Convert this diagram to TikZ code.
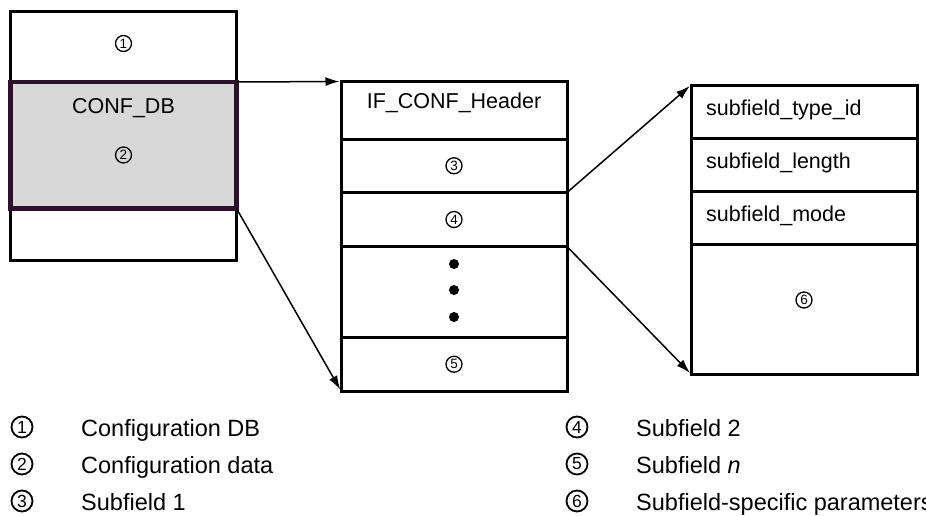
\documentclass[tikz,border=0pt]{standalone}
\usepackage{fontspec}
\setmainfont{Liberation Sans}
\usetikzlibrary{positioning, arrows.meta}
\definecolor{confgray}{RGB}{216,216,216}
\definecolor{confedge}{RGB}{45,16,42}

\begin{document}
\begin{tikzpicture}[x=1pt, y=-1pt, node distance=0pt,
    cell/.style={draw, line width=3pt, minimum width=226pt, inner sep=0pt, outer sep=0pt, anchor=north},
    lbl/.style={font=\fontsize{21.5}{24}\selectfont, inner sep=0pt},
    num/.style={circle, draw, line width=1.3pt, minimum size=16pt, inner sep=0pt, font=\fontsize{13.5}{14}\selectfont},
    legnum/.style={circle, draw, line width=1.8pt, minimum size=21pt, inner sep=0pt, font=\fontsize{17.5}{18}\selectfont},
    legtxt/.style={font=\fontsize{23.5}{26}\selectfont, inner sep=0pt, anchor=base west},
    arr/.style={line width=1.5pt, shorten >=1.5pt, -{Latex[length=14pt, width=9pt]}}]
  \useasboundingbox (0,0) rectangle (926,515);
  % configuration DB
  \node[cell, minimum height=249pt] (db) at (123.5,11) {};
  \node[cell, minimum height=126.5pt, fill=confgray, draw=confedge, line width=4.5pt] (conf) at (123.5,82) {};
  \node[num] (n1) at (123.5,43.5) {1};
  \node[lbl, anchor=base] (confname) at (123.5,113) {CONF\_DB};
  \node[num] (n2) at (123.5,155) {2};
  % interface configuration
  \node[cell, minimum height=57.5pt] (hdr) at (454,81.5) {};
  \node[lbl, anchor=base] (hdrname) at (454,108) {IF\_CONF\_Header};
  \node[cell, minimum height=53.5pt, below=of hdr] (sf1) {};
  \node[cell, minimum height=54pt, below=of sf1] (sf2) {};
  \node[cell, minimum height=91pt, below=of sf2] (dots) {};
  \node[cell, minimum height=53.5pt, below=of dots] (sfn) {};
  \node[num] (n3) at (sf1) {3};
  \node[num] (n4) at (sf2) {4};
  \node[num] (n5) at (sfn) {5};
  \foreach \y in {264,290,317}
    \fill (454,\y) circle (5pt);
  % subfield
  \node[cell, minimum height=53.5pt] (typeid) at (804,85) {};
  \node[cell, minimum height=52.5pt, below=of typeid] (len) {};
  \node[cell, minimum height=53pt, below=of len] (mode) {};
  \node[cell, minimum height=130pt, below=of mode] (params) {};
  \node[lbl, anchor=base west] (typeidname) at (706,115) {subfield\_type\_id};
  \node[lbl, anchor=base west] (lenname) at (706,168.5) {subfield\_length};
  \node[lbl, anchor=base west] (modename) at (706,221.5) {subfield\_mode};
  \node[num] (n6) at (804,300) {6};

  \path[arr]
    (conf.north east) edge (hdr.north west)
    (conf.south east) edge (sfn.south west)
    (sf1.south east)  edge (typeid.north west)
    (sf2.south east)  edge (params.south west);

  % legend
  \foreach \x/\y/\t [count=\i] in {22/427/Configuration DB, 22/464/Configuration data, 22/501/Subfield 1,
      577/427/Subfield 2, 577/464/Subfield \textit{n}, 577/501/Subfield-specific parameters} {
    \node[legnum] (key\i) at (\x,\y) {\i};
    \node[legtxt] (keytxt\i) at ([xshift=59pt, yshift=-9.5pt]key\i.center) {\t};
  }
\end{tikzpicture}
\end{document}
